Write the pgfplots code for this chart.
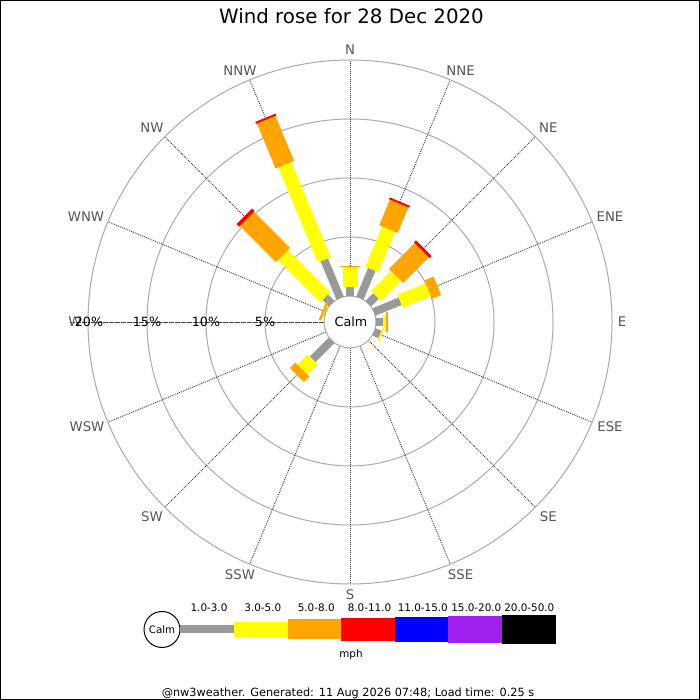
\documentclass[border=0pt]{standalone}
\usepackage{fontspec}
\setmainfont{DejaVu Sans}
\usepackage{pgfplots}
\pgfplotsset{compat=1.18}
\usepackage{pgfplotstable}

\definecolor{wgray}{HTML}{999999}
\definecolor{wyellow}{HTML}{FFFF00}
\definecolor{worange}{HTML}{FFA500}
\definecolor{wred}{HTML}{FF0000}
\definecolor{wblue}{HTML}{0000FF}
\definecolor{wpurple}{HTML}{A020F0}
\definecolor{gridc}{HTML}{AAAAAA}
\definecolor{labc}{HTML}{555555}
\definecolor{radc}{HTML}{444444}

% cumulative percentages per direction (a = math angle in degrees)
\pgfplotstableread{
dir a z c1 c2 c3 c4
N 90 0 0.74 2.43 2.57 2.57
NNE 67.5 0 2.63 6.32 8.67 8.84
NE 45 0 0.92 3.31 6.40 6.64
ENE 22.5 0 2.40 4.97 5.81 5.81
E 0 0 0.57 0.85 1.04 1.04
ESE -22.5 0 0.55 0.70 0.70 0.70
SW -135 0 2.27 3.51 4.15 4.15
WNW 157.5 0 0.05 0.12 0.32 0.32
NW 135 0 0.77 5.82 10.17 10.46
NNW 112.5 0 3.50 12.23 16.36 16.53
}\windtable

\newcommand\off{2.20339}
\newcommand\seg[4]{%
\addplot[draw=#1, line width=#2, no markers, line cap=butt,
  quiver={u={(\thisrow{#4}-\thisrow{#3})*cos(\thisrow{a})},
          v={(\thisrow{#4}-\thisrow{#3})*sin(\thisrow{a})}}]
  table[x expr={(\off+\thisrow{#3})*cos(\thisrow{a})},
        y expr={(\off+\thisrow{#3})*sin(\thisrow{a})}] {\windtable};}

\begin{document}
\begin{tikzpicture}
\begin{scope}[shift={(0,350pt)}, x=0.5pt, y=-0.5pt]
  \fill[white] (0,0) rectangle (700,700);
  \foreach \r in {85,144,203,262}{
    \draw[gridc, line width=0.5pt] (350,322) circle[radius=\r];
  }
  \foreach \a in {22.5,45,...,337.5}{
    \draw[radc, line width=0.45pt, dash pattern=on 0.5pt off 0.5pt] (350,322) ++(\a:26) -- ++(\a:236);
  }
  \draw[radc, line width=0.45pt, dash pattern=on 1pt off 0.5pt] (324,322) -- (70,322);
  \draw[gridc, line width=0.5pt] (350,322) circle[radius=26];
\end{scope}

\begin{axis}[at={(0,0)}, anchor=south west, scale only axis,
  width=350pt, height=350pt,
  xmin=-29.661, xmax=29.661, ymin=-32.034, ymax=27.288,
  hide axis, clip=false]
\seg{wgray}{4pt}{z}{c1}
\seg{wyellow}{7pt}{c1}{c2}
\seg{worange}{10pt}{c2}{c3}
\seg{wred}{11pt}{c3}{c4}
\end{axis}

\begin{scope}[shift={(0,350pt)}, x=0.5pt, y=-0.5pt]
  \node[anchor=base, font=\fontsize{9.9}{11}\selectfont] at (351.5,24) {Wind rose for 28 Dec 2020};
  \begin{scope}[labc, font=\fontsize{6.65}{8}\selectfont, inner sep=0pt]
    \node at (350,49.7) {N};
    \node at (460.5,70.3) {NNE};
    \node at (548.3,127.2) {NE};
    \node at (610,217) {ENE};
    \node at (622,322) {E};
    \node at (610,427) {ESE};
    \node at (548.3,517) {SE};
    \node at (460.5,575) {SSE};
    \node at (350,595) {S};
    \node at (240,575) {SSW};
    \node at (152,517) {SW};
    \node at (87,427) {WSW};
    \node at (75,322) {W};
    \node at (86,217) {WNW};
    \node at (152,127.2) {NW};
    \node at (240,70.3) {NNW};
  \end{scope}
  \begin{scope}[font=\fontsize{6.35}{8}\selectfont, inner sep=0pt]
    \node at (265,322) {5\%};
    \node at (206,322) {10\%};
    \node at (147,322) {15\%};
    \node at (89,322) {20\%};
    \node at (351,322) {Calm};
  \end{scope}
  % legend
  \draw[black, line width=0.5pt, fill=white] (162,629.5) circle[radius=18];
  \node[font=\fontsize{5.1}{6}\selectfont, inner sep=0pt] at (162,629.5) {Calm};
  \fill[wgray]   (180,625)   rectangle (234.3,632.7);
  \fill[wyellow] (234.3,621.7) rectangle (287.7,636.7);
  \fill[worange] (287.7,619) rectangle (341.3,639.3);
  \fill[wred]    (341.3,617.7) rectangle (395,640.7);
  \fill[wblue]   (395,616.7) rectangle (448.3,641.7);
  \fill[wpurple] (448.3,615.7) rectangle (502,642.7);
  \fill[black]   (502,615)   rectangle (555.7,643.7);
  \begin{scope}[font=\fontsize{5.2}{6}\selectfont, inner sep=0pt, anchor=base]
    \node[anchor=base] at (209,611.3) {1.0-3.0};
    \node[anchor=base] at (262.8,611.3) {3.0-5.0};
    \node[anchor=base] at (316.2,611.3) {5.0-8.0};
    \node[anchor=base] at (369.5,611.3) {8.0-11.0};
    \node[anchor=base] at (422.8,611.3) {11.0-15.0};
    \node[anchor=base] at (476.3,611.3) {15.0-20.0};
    \node[anchor=base] at (529.3,611.3) {20.0-50.0};
    \node[anchor=base] at (351,657.3) {mph};
  \end{scope}
  \node[anchor=base, inner sep=0pt, font=\fontsize{5.65}{7}\selectfont] at (348,696.5) {@nw3weather. Generated: 11 Aug 2026 07:48; Load time: 0.25 s};
  \draw[black, line width=0.5pt] (0.5,0.5) rectangle (699.5,699.5);
\end{scope}
\end{tikzpicture}
\end{document}
